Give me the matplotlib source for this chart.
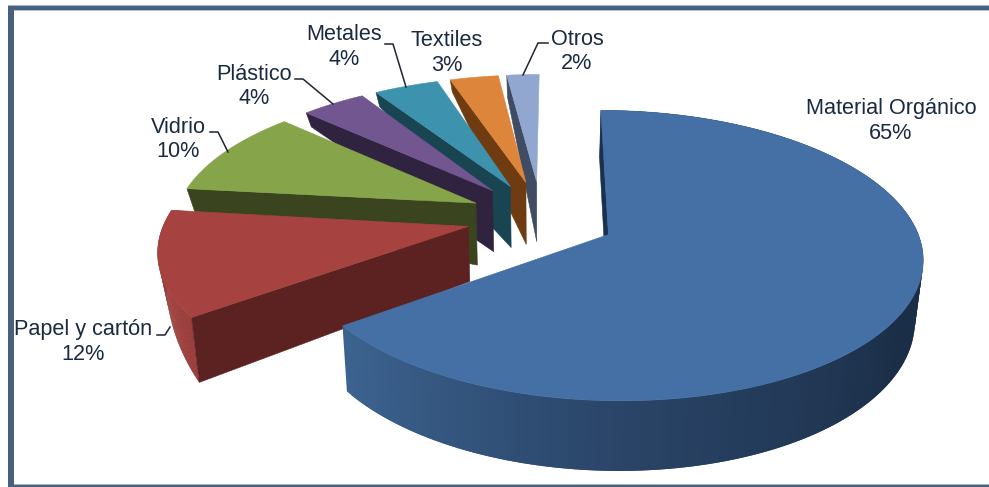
import numpy as np
import matplotlib
matplotlib.use("Agg")
import matplotlib.pyplot as plt
from matplotlib.colors import to_rgb
from matplotlib.patches import Rectangle, Polygon
from matplotlib.collections import PolyCollection

categories = ["Material Orgánico", "Papel y cartón", "Vidrio", "Plástico", "Metales", "Textiles", "Otros"]
percents = [65, 12, 10, 4, 4, 3, 2]

top_colors = ["#4470a5", "#a64341", "#86a44a", "#71568f", "#3d93ad", "#dc853b", "#92a7cf"]
wall_colors = ["#1a3050", "#5c2221", "#3a451f", "#2f2340", "#194552", "#6f3c12", "#3f4c63"]

# how far each slice is pulled out, plus small nudges of apex and rim
explode = [0.245, 0.245, 0.24, 0.235, 0.235, 0.235, 0.235]
apex_lift = [0, 1, 2, 4, 4, 6, 6]
apex_dx = [0, 0, 0, -4, -1, 0, 0]
rim_dx = [1, 1, 2, 3, 3, 3, 2]

# wall height next to the apex and at the outer rim
apex_drop = [58, 55, 62, 61, 61, 62, 60]
rim_drop = [64, 65, 23, 14, 14, 12, 22]

label_x = [891, 83, 178, 254, 344, 447, 577]
label_y = [121, 342, 139.5, 86.5, 47, 53, 51.5]

leader_x = [None, [157, 165, 170], [210, 218, 228], [295, 303, 333], [385, 393, 406], None, [548, 538, 523]]
leader_y = [None, [335, 335, 327], [132, 132, 152], [79, 79, 104], [44, 44, 87], None, [43, 43, 75]]

# projection of the pie plane
cx, cy = 541, 219
Rx, Ry = 304, 137.7
persp = 0.1426
squeeze = 0.022


def project(X, Y):
    f = 1 / (1 + persp * np.asarray(Y))
    return cx + Rx * np.asarray(X) * f, cy - Ry * np.asarray(Y) * f


def lowered(sx, sy, drop):
    return sx + (cx - sx) * squeeze, sy + drop


fig = plt.figure(figsize=(9.89, 4.87), dpi=100)
ax = fig.add_axes([0, 0, 1, 1])
ax.set_xlim(0, 989)
ax.set_ylim(487, 0)
ax.axis("off")

# open frame: left, top and bottom bars only
for x, y, w, h in [(8, 4.5, 5.5, 482.5), (8, 4.5, 981, 5.5), (8, 484.3, 981, 2.7)]:
    ax.add_patch(Rectangle((x, y), w, h, fc="#47607e", ec="none", zorder=20))
ax.plot([8, 989], [4.5, 4.5], color="#a9b4c3", lw=0.8, zorder=21)
ax.plot([13.5, 989], [484.2, 484.2], color="#a9b4c3", lw=0.8, zorder=21)
ax.plot([13.5, 989], [10, 10], color="#a9b4c3", lw=0.6, zorder=21)

edges = np.concatenate([[0], np.cumsum(percents)]) * 3.6

# painter's order: the slices at the back go first
for i in range(len(percents) - 1, -1, -1):
    t1, t2 = np.radians(edges[i]), np.radians(edges[i + 1])
    mid = (t1 + t2) / 2
    ax0, ay0 = explode[i] * np.sin(mid), explode[i] * np.cos(mid)
    th = np.linspace(t1, t2, 160)
    rx_, ry_ = project(ax0 + np.sin(th), ay0 + np.cos(th))
    rx_ = rx_ + rim_dx[i]
    apx, apy = project(ax0, ay0)
    apx = apx + apex_dx[i]
    apy = apy - apex_lift[i]

    if i == 0:
        f = 1 / (1 + persp * (ay0 + np.cos(th)))
        drops = 59 * f
        drops[0] = 48
    else:
        drops = np.interp(th, [t1, t2], [rim_drop[i], 0 if i == 1 else rim_drop[i] * 0.5])

    # rim wall, split in overlapping strips for the shading
    bx, by = lowered(rx_, ry_, drops)
    quads = [[(rx_[k], ry_[k]), (rx_[k + 2], ry_[k + 2]), (bx[k + 2], by[k + 2]), (bx[k], by[k])]
             for k in range(len(th) - 2)]
    if i == 0:
        deg = np.degrees(th[:-2])
        stops = [to_rgb(c) for c in ["#1a2c44", "#1b2e47", "#2a4568", "#3d6592"]]
        cols = np.array([np.interp(deg, [0, 120, 180, 234], [s[j] for s in stops]) for j in range(3)]).T
    else:
        cols = ["#9b3d3b"] * len(quads)
    if i <= 1:
        ax.add_collection(PolyCollection(quads, facecolors=cols, edgecolors="none", zorder=3))

    # radial wall on the leading edge
    abx, aby = lowered(apx, apy, apex_drop[i])
    ox, oy = lowered(rx_[0], ry_[0], drops[0])
    wall = [(apx, apy), (rx_[0], ry_[0]), (ox, oy), (abx, aby)]
    ax.add_patch(Polygon(wall, fc=wall_colors[i], ec=wall_colors[i], lw=0.4, zorder=3))

    top = np.column_stack([np.r_[apx, rx_], np.r_[apy, ry_]])
    ax.add_patch(Polygon(top, fc=top_colors[i], ec=top_colors[i], lw=0.4, zorder=3))

plt.rcParams["font.family"] = ["Liberation Sans", "DejaVu Sans"]
for name, pct, x, y in zip(categories, percents, label_x, label_y):
    ax.text(x, y, f"{name}\n{pct}%", ha="center", va="center", fontsize=15.6,
            color="#1a2a40", linespacing=1.2, zorder=10)
for xs, ys in zip(leader_x, leader_y):
    if xs is not None:
        ax.plot(xs, ys, color="#1f2530", lw=1.1, zorder=9)

fig.savefig("out.png", dpi=100)
